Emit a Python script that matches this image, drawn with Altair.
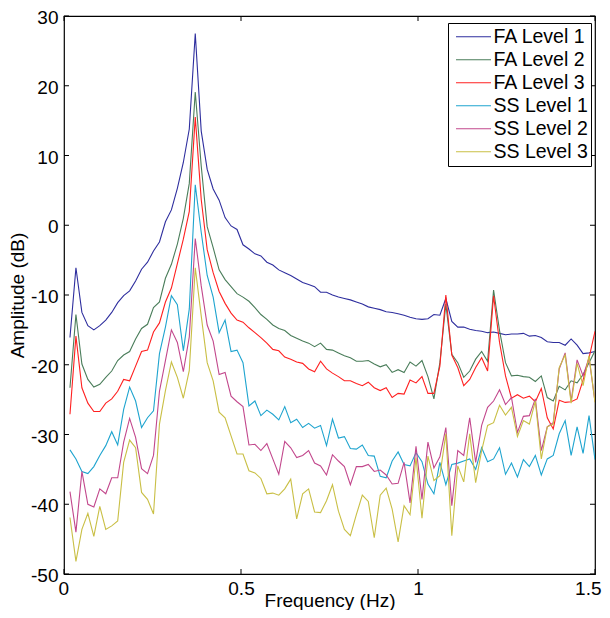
import altair as alt
import pandas as pd

# Frequency grid (Hz): 89 equally spaced bins up to 1.5 Hz
FREQ = [round(k * 1.5 / 89, 5) for k in range(1, 90)]

SERIES = ["FA Level 1", "FA Level 2", "FA Level 3", "SS Level 1", "SS Level 2", "SS Level 3"]
COLORS = ["#2e2e9e", "#4a7d5a", "#ff2020", "#1ea4cf", "#c2478c", "#c9bf45"]

FA1 = [-16.1, -6.1, -12.5, -14.4, -15.0, -14.4, -13.6, -12.5, -11.1, -10.1,
       -9.4, -8.0, -6.3, -5.3, -3.7, -2.4, 0.5, 2.2, 5.3, 9.0,
       13.8, 27.5, 13.5, 8.0, 5.2, 3.6, 1.1, -0.1, -0.6, -2.8,
       -3.4, -4.1, -4.4, -5.3, -5.7, -6.4, -6.8, -7.2, -7.7, -8.2,
       -8.5, -8.8, -9.6, -9.6, -10.0, -10.3, -10.5, -10.7, -11.0, -11.3,
       -11.7, -11.9, -12.1, -12.4, -12.5, -12.7, -12.9, -13.2, -13.4, -13.5,
       -13.4, -12.8, -12.9, -10.5, -13.8, -14.6, -14.6, -14.9, -15.1, -15.2,
       -15.4, -15.3, -15.5, -15.7, -15.6, -15.6, -15.5, -15.9, -15.8, -16.1,
       -16.7, -16.8, -16.8, -17.2, -16.3, -17.2, -18.4, -18.3, -18.1]

FA2 = [-23.3, -12.8, -19.9, -22.1, -23.2, -22.8, -21.8, -20.9, -19.4, -18.6,
       -18.1, -16.3, -14.8, -14.2, -11.8, -11.0, -7.6, -5.6, -2.7, 1.0,
       6.0, 19.1, 8.5, -0.2, -3.2, -6.4, -7.8, -8.8, -9.8, -10.3,
       -10.9, -11.8, -12.8, -13.5, -14.3, -14.8, -15.1, -15.8, -16.2, -16.6,
       -16.9, -17.4, -16.9, -17.8, -17.9, -18.3, -18.7, -19.0, -19.5, -19.5,
       -19.4, -19.9, -20.3, -20.0, -21.1, -20.7, -21.1, -19.6, -20.2, -19.4,
       -21.7, -24.9, -19.7, -11.3, -18.5, -19.7, -21.8, -20.9, -19.2, -18.1,
       -19.5, -9.3, -15.1, -19.7, -21.6, -21.5, -21.7, -21.8, -22.4, -21.6,
       -24.7, -25.2, -23.1, -23.6, -22.3, -22.6, -21.4, -19.7, -18.0]

FA3 = [-27.1, -15.9, -23.3, -25.5, -26.7, -26.7, -25.5, -24.9, -23.8, -22.1,
       -22.3, -20.2, -18.1, -17.9, -15.3, -14.0, -11.0, -9.0, -5.5, -2.0,
       2.0, 15.5, 3.7, -3.5, -6.8, -9.5, -11.2, -12.6, -13.6, -13.9,
       -14.7, -15.4, -16.1, -16.9, -17.8, -18.0, -18.9, -19.2, -19.6, -19.8,
       -20.6, -21.0, -19.5, -20.6, -21.2, -21.7, -22.3, -22.3, -22.7, -23.0,
       -22.5, -23.3, -23.7, -23.3, -24.7, -24.1, -24.2, -22.2, -22.6, -21.7,
       -24.1, -24.1, -20.2, -10.0, -18.6, -20.4, -23.0, -22.1, -20.4, -19.0,
       -20.9, -10.1, -16.8, -21.6, -24.8, -24.3, -24.8, -24.5, -25.3, -23.4,
       -27.6, -29.2, -25.1, -25.4, -25.3, -24.9, -22.2, -19.0, -15.2]

SS1 = [-32.2, -33.5, -35.3, -35.6, -34.6, -33.0, -31.6, -29.6, -31.5, -26.4,
       -23.2, -25.2, -29.0, -27.6, -26.6, -18.4, -14.6, -10.1, -11.4, -18.0,
       -12.0, 5.8, -1.0, -7.2, -10.3, -15.4, -13.6, -18.1, -17.9, -19.7,
       -25.9, -25.2, -27.3, -26.5, -27.1, -27.9, -26.0, -28.3, -27.8, -29.0,
       -28.4, -29.1, -28.7, -31.6, -27.8, -30.5, -30.3, -32.0, -32.1, -31.5,
       -33.0, -33.1, -36.0, -36.2, -33.8, -32.5, -34.3, -34.5, -32.6, -33.9,
       -37.1, -38.5, -34.0, -37.2, -34.3, -34.1, -33.8, -33.5, -35.0, -31.9,
       -33.9, -33.5, -31.9, -35.7, -34.1, -36.1, -33.6, -34.6, -33.0, -35.8,
       -33.5, -33.0, -29.9, -28.0, -33.0, -28.9, -32.7, -27.3, -33.6]

SS2 = [-38.2, -44.0, -35.3, -40.0, -40.4, -37.8, -38.5, -36.2, -36.2, -31.1,
       -27.7, -30.4, -34.9, -35.6, -33.0, -23.8, -19.4, -15.0, -16.8, -21.0,
       -16.0, -1.9, -8.7, -14.3, -16.6, -21.4, -21.1, -24.5, -25.3, -26.0,
       -31.5, -31.4, -32.3, -31.3, -33.5, -35.7, -31.0, -31.9, -33.3, -33.0,
       -32.3, -34.1, -34.5, -35.8, -32.9, -33.8, -34.6, -37.2, -34.6, -34.6,
       -34.3, -35.3, -35.1, -35.8, -37.1, -37.0, -34.0, -39.8, -31.7, -39.3,
       -31.1, -34.8, -33.2, -29.0, -40.2, -32.3, -33.0, -27.6, -34.0, -28.7,
       -26.1, -25.2, -23.6, -25.7, -24.7, -29.7, -27.4, -27.3, -24.9, -32.3,
       -28.9, -28.3, -20.6, -18.3, -25.2, -19.3, -21.6, -19.0, -25.3]

SS3 = [-41.9, -48.2, -43.6, -41.3, -44.6, -40.3, -43.6, -43.1, -42.4, -34.0,
       -30.8, -31.9, -38.3, -39.3, -41.4, -28.5, -23.7, -19.6, -21.8, -24.8,
       -20.8, -6.1, -13.0, -19.7, -22.3, -26.8, -27.6, -30.2, -32.8, -32.8,
       -35.2, -35.5, -36.3, -38.5, -38.4, -38.7, -37.8, -36.4, -42.1, -38.5,
       -37.8, -41.1, -41.2, -39.5, -37.2, -41.0, -43.6, -44.5, -41.5, -38.7,
       -39.6, -44.8, -38.7, -37.7, -40.7, -45.4, -40.2, -41.5, -33.3, -42.0,
       -33.1, -36.6, -35.9, -29.9, -44.5, -34.5, -36.8, -29.9, -36.9, -32.3,
       -28.7, -28.3, -25.8, -27.2, -26.1, -30.3, -28.0, -28.5, -25.2, -33.5,
       -28.9, -28.5, -20.4, -18.6, -25.5, -19.8, -23.0, -18.7, -25.4]

X_TICKS = [0, 0.5, 1, 1.5]
Y_TICKS = [-50, -40, -30, -20, -10, 0, 10, 20, 30]

W, H = 531, 558
FONT = "Liberation Sans"
FS = 19

rows = []
for name, vals in zip(SERIES, [FA1, FA2, FA3, SS1, SS2, SS3]):
    for i, (f, v) in enumerate(zip(FREQ, vals)):
        rows.append({"series": name, "freq": f, "amp": v, "order": i})
df = pd.DataFrame(rows)

xscale = alt.Scale(domain=[0, 1.5], nice=False, zero=False)
yscale = alt.Scale(domain=[-50, 30], nice=False, zero=False)

lines = alt.Chart(df).mark_line(strokeWidth=1.1, clip=True).encode(
    x=alt.X("freq:Q", scale=xscale,
            axis=alt.Axis(title="Frequency (Hz)", values=X_TICKS, labelExpr="datum.value + ''",
                          ticks=False, domain=False, grid=False, labelFlush=True,
                          labelFlushOffset=6, labelPadding=5,
                          titleBaseline="bottom", titleY=36)),
    y=alt.Y("amp:Q", scale=yscale,
            axis=alt.Axis(title="Amplitude (dB)", values=Y_TICKS, labelExpr="datum.value + ''",
                          ticks=False, domain=False, grid=False, labelFlush=False,
                          labelPadding=6, labelOffset=1.5, titlePadding=3)),
    color=alt.Color("series:N", sort=SERIES,
                    scale=alt.Scale(domain=SERIES, range=COLORS),
                    legend=alt.Legend(orient="none", legendX=384, legendY=7, title=None,
                                      symbolType="stroke", symbolSize=1225, symbolStrokeWidth=1.1,
                                      symbolOffset=4.5, clipHeight=22.5,
                                      labelFontSize=19.5, labelFont=FONT, labelColor="black",
                                      strokeColor="black", fillColor="white",
                                      padding=2.5, rowPadding=0, labelOffset=1.5)),
    detail="series:N",
    order="order:Q",
)

xt = pd.DataFrame({"v": X_TICKS})
yt = pd.DataFrame({"v": Y_TICKS})
tick_style = dict(color="black", strokeWidth=1)
xb = alt.Chart(xt).mark_rule(**tick_style).encode(x=alt.X("v:Q", scale=xscale), y=alt.value(H), y2=alt.value(H - 5))
xtp = alt.Chart(xt).mark_rule(**tick_style).encode(x=alt.X("v:Q", scale=xscale), y=alt.value(0), y2=alt.value(5))
yl = alt.Chart(yt).mark_rule(**tick_style).encode(y=alt.Y("v:Q", scale=yscale), x=alt.value(0), x2=alt.value(5))
yr = alt.Chart(yt).mark_rule(**tick_style).encode(y=alt.Y("v:Q", scale=yscale), x=alt.value(W), x2=alt.value(W - 5))

chart = alt.layer(xb, xtp, yl, yr, lines).properties(
    width=W, height=H,
    autosize=alt.AutoSizeParams(type="none"),
    padding={"left": 56, "top": 8, "right": 7, "bottom": 36},
    background="white",
).configure_view(
    stroke="black", strokeWidth=1.2
).configure_axis(
    labelFont=FONT, titleFont=FONT, labelFontSize=FS, titleFontSize=FS,
    labelColor="black", titleColor="black", titleFontWeight="normal"
)

chart.save("out.html", embed_options={"renderer": "svg", "actions": False})
